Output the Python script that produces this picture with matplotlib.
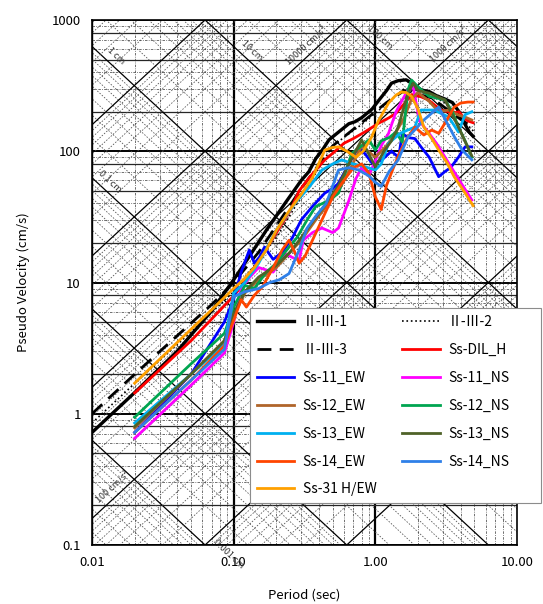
import numpy as np
import matplotlib
matplotlib.use('Agg')
import matplotlib.pyplot as plt
from matplotlib.ticker import FixedLocator, FixedFormatter, NullLocator
from matplotlib.patches import Rectangle

plt.rcParams['font.family'] = ['Noto Sans CJK JP', 'DejaVu Sans']

# ---------------- data ----------------
x_ticks = [0.01, 0.1, 1, 10]
x_tick_labels = ['0.01', '0.10', '1.00', '10.00']
y_ticks = [0.1, 1, 10, 100, 1000]
y_tick_labels = ['0.1', '1', '10', '100', '1000']

# II-III-1 (black solid)
T_231 = [0.01, 0.02, 0.04, 0.071, 0.1, 0.13, 0.17, 0.23, 0.3, 0.34, 0.38, 0.43, 0.47, 0.55, 0.65, 0.72,
         0.8, 0.95, 1.06, 1.2, 1.3, 1.45, 1.65, 1.8, 2.0, 2.2, 2.4, 2.7, 3.1, 3.5, 3.9, 4.3, 4.6, 4.9]
V_231 = [0.72, 1.45, 3.0, 6.2, 10.5, 16, 25, 40, 60, 70, 88, 105, 122, 140, 162, 168,
         180, 210, 245, 290, 330, 345, 350, 332, 300, 290, 285, 265, 250, 235, 200, 160, 140, 130]
# II-III-2 (black dotted)
T_232 = [0.01, 0.02, 0.05, 0.1, 0.2, 0.3, 0.5, 0.8, 1.2, 1.6, 2.0, 3.0, 4.0, 5.0]
V_232 = [0.85, 1.7, 4.2, 8.5, 22, 45, 110, 160, 230, 300, 290, 240, 180, 140]
# II-III-3 (black dashed)
T_233 = [0.01, 0.02, 0.05, 0.07, 0.1, 0.15, 0.2, 0.3, 0.5, 0.8, 1.2, 1.6, 2.5, 4.0, 5.0]
V_233 = [1.0, 2.0, 4.9, 6.8, 10, 17, 27, 52, 110, 165, 235, 290, 255, 175, 150]

# Ss-DIL_H (red)
T_dil = [0.02, 0.05, 0.1, 0.113, 0.14, 0.17, 0.21, 0.25, 0.29, 0.35, 0.44, 0.52, 0.6, 0.7, 0.84,
         1.06, 1.25, 1.4, 1.6, 1.8, 2.1, 2.37, 2.9, 3.3, 3.6, 3.9, 4.2, 4.5, 4.9]
V_dil = [1.44, 3.6, 7.9, 9.3, 13, 18, 26, 35, 50, 65, 86, 100, 115, 125, 140,
         164, 180, 195, 230, 270, 260, 246, 206, 200, 196, 200, 180, 170, 165]
# Ss-11 EW (blue)
T_11ew = [0.02, 0.05, 0.086, 0.1, 0.113, 0.129, 0.14, 0.152, 0.165, 0.19, 0.22, 0.26, 0.3, 0.36, 0.44,
          0.5, 0.55, 0.65, 0.76, 0.85, 0.95, 1.1, 1.3, 1.46, 1.55, 1.7, 1.9, 2.1, 2.4, 2.8, 3.1,
          3.4, 3.86, 4.3, 4.8]
V_11ew = [0.72, 2.0, 5.0, 7.5, 12, 17.7, 14, 15.6, 18.6, 15, 17, 22, 30, 38, 48,
          52, 57, 80, 108, 95, 81, 85, 100, 90, 137, 127, 125, 108, 90, 64, 70,
          75, 90, 108, 108]
# Ss-11 NS (magenta)
T_11ns = [0.02, 0.05, 0.086, 0.1, 0.113, 0.13, 0.15, 0.19, 0.23, 0.26, 0.29, 0.31, 0.36, 0.42, 0.5,
          0.55, 0.65, 0.73, 0.8, 0.9, 1.0, 1.1, 1.24, 1.4, 1.55, 1.7, 1.85, 2.05, 2.3, 2.7, 3.3,
          4.0, 4.8]
V_11ns = [0.65, 1.65, 2.9, 5.0, 9.0, 11, 13, 12, 16.6, 15.5, 14.8, 21, 24, 26, 24,
          26, 42, 62, 75, 65, 85, 110, 137, 200, 246, 293, 309, 170, 145, 115, 81,
          58, 42.5]
# Ss-12 EW (brown)
T_12ew = [0.02, 0.05, 0.086, 0.1, 0.12, 0.15, 0.2, 0.25, 0.3, 0.38, 0.45, 0.55, 0.65, 0.8, 1.0,
          1.2, 1.4, 1.6, 1.8, 2.0, 2.4, 2.8, 3.3, 3.8, 4.3, 4.8]
V_12ew = [0.78, 2.0, 3.6, 5.6, 8.3, 10.5, 13, 17, 21, 30, 38, 50, 70, 110, 90,
          110, 140, 180, 250, 280, 240, 200, 206, 190, 182, 173]
# Ss-12 NS (green)
T_12ns = [0.02, 0.05, 0.086, 0.1, 0.12, 0.14, 0.17, 0.2, 0.246, 0.28, 0.33, 0.38, 0.47, 0.55, 0.68,
          0.8, 0.9, 1.0, 1.1, 1.25, 1.4, 1.55, 1.7, 1.8, 2.0, 2.4, 3.1, 3.5, 3.86, 4.3, 4.8]
V_12ns = [0.94, 2.4, 4.1, 6.5, 9.5, 9.0, 12, 14, 18.6, 22, 30, 38, 42, 48, 96,
          110, 122, 102, 120, 127, 140, 117, 293, 349, 309, 262, 246, 200, 153, 120, 90]
# Ss-13 EW (cyan)
T_13ew = [0.02, 0.05, 0.086, 0.1, 0.12, 0.15, 0.2, 0.27, 0.34, 0.42, 0.5, 0.58, 0.7, 0.85, 1.0,
          1.1, 1.24, 1.5, 1.9, 2.1, 2.6, 3.3, 3.86, 4.3, 4.8]
V_13ew = [0.85, 2.0, 3.4, 8.3, 10, 14, 25, 40, 53, 72, 80, 86, 80, 76, 72,
          80, 115, 137, 153, 206, 206, 182, 140, 190, 200]
# Ss-13 NS (olive)
T_13ns = [0.02, 0.05, 0.086, 0.1, 0.12, 0.15, 0.2, 0.25, 0.3, 0.38, 0.45, 0.55, 0.65, 0.8, 1.0,
          1.15, 1.3, 1.45, 1.7, 1.85, 2.0, 2.4, 3.1, 3.86, 4.8]
V_13ns = [0.8, 2.0, 3.6, 5.8, 8.5, 11, 13.5, 17, 22, 31.5, 40, 55, 80, 122, 76,
          100, 120, 153, 277, 330, 290, 277, 246, 153, 92]
# Ss-14 EW (orange-red)
T_14ew = [0.02, 0.05, 0.086, 0.113, 0.123, 0.14, 0.16, 0.19, 0.22, 0.246, 0.27, 0.29, 0.32, 0.36,
          0.42, 0.5, 0.6, 0.7, 0.8, 0.9, 1.0, 1.1, 1.2, 1.35, 1.5, 1.65, 1.9, 2.2, 2.5, 2.8, 3.2,
          3.6, 4.0, 4.5, 4.9]
V_14ew = [0.72, 1.8, 3.3, 7.4, 6.5, 8.0, 9.3, 13, 17.7, 21, 17, 14, 16, 21,
          30, 45, 60, 75, 80, 68, 45, 36, 55, 76, 100, 122, 153, 133, 145, 137, 173,
          217, 233, 237, 237]
# Ss-14 NS (blue)
T_14ns = [0.02, 0.05, 0.086, 0.1, 0.12, 0.15, 0.18, 0.21, 0.246, 0.29, 0.33, 0.38, 0.45, 0.55, 0.65,
          0.76, 0.9, 1.0, 1.1, 1.25, 1.45, 1.7, 1.95, 2.2, 2.5, 2.8, 3.2, 3.6, 4.1, 4.8]
V_14ns = [0.72, 1.8, 3.1, 7.8, 8.5, 9.0, 10, 10.5, 11.7, 17.7, 26, 32, 40, 72, 75,
          72, 65, 58, 54, 70, 86, 128, 150, 173, 195, 217, 165, 130, 102, 86]
# Ss-31 H/EW (orange)
T_31 = [0.02, 0.04, 0.071, 0.1, 0.118, 0.14, 0.17, 0.2, 0.25, 0.3, 0.36, 0.44, 0.5, 0.55, 0.63,
        0.73, 0.82, 0.94, 1.05, 1.24, 1.4, 1.53, 1.65, 1.8, 2.0, 2.2, 2.5, 2.8, 3.2, 3.6, 4.2, 4.9]
V_31 = [1.71, 3.5, 6.3, 9.0, 10.6, 13, 17.7, 25, 36, 47, 63, 102, 107, 108, 100,
        90, 100, 128, 170, 233, 268, 283, 280, 262, 210, 153, 125, 102, 82, 64, 50, 38.5]

# background tripartite grid values
disp_decades = [1e-4, 1e-3, 1e-2, 1e-1, 1, 10, 100, 1000]      # cm
acc_decades = [1, 10, 100, 1000, 1e4, 1e5, 1e6]                # cm/s^2
disp_labels = [(1.0, 0.0125, '1 cm'), (10.0, 0.11, '10 cm'), (100.0, 0.85, '100 cm'),
               (0.1, 0.0108, '0.1 cm'), (0.001, 0.07, '0.001 cm')]
acc_labels = [(1e4, 0.25, '10000 cm/s²'), (1000, 2.6, '1000 cm/s²'), (100, 0.0115, '100 cm/s²')]

# ---------------- figure ----------------
W, H = 543, 604
fig = plt.figure(figsize=(W / 100, H / 100), dpi=100)
L, R, Tp, B = 92, 517, 20, 545
ax = fig.add_axes([L / W, 1 - B / H, (R - L) / W, (B - Tp) / H])
ax.set_xscale('log')
ax.set_yscale('log')
ax.set_xlim(0.01, 10)
ax.set_ylim(0.1, 1000)

minor_ls = (0, (3, 1.5, 1, 1.5))
# vertical / horizontal grid
for d in [0.01, 0.1, 1]:
    for m in range(1, 10):
        t = d * m
        if m == 1:
            ax.axvline(t, color='k', lw=1.6 if d in (0.1, 1) else 1.0, zorder=1)
        else:
            ax.axvline(t, color='0.35', lw=0.6, ls=minor_ls, zorder=1)
for d in [0.1, 1, 10, 100]:
    for m in range(1, 10):
        v = d * m
        if m == 1:
            ax.axhline(v, color='k', lw=1.4, zorder=1)
        elif m in (2, 5, 8):
            ax.axhline(v, color='0.15', lw=0.9, zorder=1)
        else:
            ax.axhline(v, color='0.35', lw=0.6, ls=minor_ls, zorder=1)
ax.axhline(1000, color='k', lw=1.4, zorder=1)

Tg = np.logspace(-2.2, 1.2, 50)
for d in disp_decades:
    for m in range(1, 10):
        D = d * m
        V = 2 * np.pi * D / Tg
        if m == 1:
            ax.plot(Tg, V, color='k', lw=0.9, zorder=1)
        else:
            ax.plot(Tg, V, color='0.3', lw=0.55, ls=(0, (2, 2)), zorder=1)
for a in acc_decades:
    for m in range(1, 10):
        A = a * m
        V = A * Tg / (2 * np.pi)
        if m == 1:
            ax.plot(Tg, V, color='k', lw=0.9, zorder=1)
        else:
            ax.plot(Tg, V, color='0.3', lw=0.55, ls=(0, (2, 2)), zorder=1)

ang = np.degrees(np.arctan((525 / 4) / (425 / 3)))
for D, t, s in disp_labels:
    ax.text(t, 2 * np.pi * D / t * 1.12, s, rotation=-ang, fontsize=6.5, color='0.2',
            ha='left', va='bottom', rotation_mode='anchor', zorder=2)
for A, t, s in acc_labels:
    ax.text(t, A * t / (2 * np.pi) * 1.12, s, rotation=ang, fontsize=6.5, color='0.2',
            ha='left', va='bottom', rotation_mode='anchor', zorder=2)

# ---------------- curves ----------------
lw = 2.0
h231, = ax.plot(T_231, V_231, color='k', lw=2.4, zorder=5, label='Ⅱ-Ⅲ-1')
h232, = ax.plot(T_232, V_232, color='k', lw=1.2, ls=':', zorder=5, label='Ⅱ-Ⅲ-2')
h233, = ax.plot(T_233, V_233, color='k', lw=2.0, ls=(0, (5, 3)), zorder=5, label='Ⅱ-Ⅲ-3')
hdil, = ax.plot(T_dil, V_dil, color='#FF0000', lw=lw, zorder=6, label='Ss-DIL_H')
h11e, = ax.plot(T_11ew, V_11ew, color='#0000FF', lw=lw, zorder=6, label='Ss-11_EW')
h11n, = ax.plot(T_11ns, V_11ns, color='#FF00FF', lw=lw, zorder=6, label='Ss-11_NS')
h12e, = ax.plot(T_12ew, V_12ew, color='#B0652A', lw=lw, zorder=6, label='Ss-12_EW')
h12n, = ax.plot(T_12ns, V_12ns, color='#00A550', lw=lw, zorder=6, label='Ss-12_NS')
h13e, = ax.plot(T_13ew, V_13ew, color='#00B0F0', lw=lw, zorder=6, label='Ss-13_EW')
h13n, = ax.plot(T_13ns, V_13ns, color='#4F6228', lw=lw, zorder=6, label='Ss-13_NS')
h14e, = ax.plot(T_14ew, V_14ew, color='#FF4500', lw=lw, zorder=6, label='Ss-14_EW')
h14n, = ax.plot(T_14ns, V_14ns, color='#2F80E8', lw=lw, zorder=6, label='Ss-14_NS')
h31, = ax.plot(T_31, V_31, color='#FFA000', lw=lw, zorder=7, label='Ss-31 H/EW')

# legend box (white panel with grey border) + legend entries
panel = Rectangle((250 / W, 1 - 503 / H), 291 / W, 195 / H, transform=fig.transFigure,
                  facecolor='white', edgecolor='0.55', lw=0.8, zorder=19)
fig.add_artist(panel)
handles = [h231, h233, h11e, h12e, h13e, h14e, h31,
           h232, hdil, h11n, h12n, h13n, h14n]
leg = fig.legend(handles=handles, loc='upper left',
                 bbox_to_anchor=(250 / W, 1 - 308 / H),
                 bbox_transform=fig.transFigure, ncol=2, fontsize=10,
                 frameon=False, borderaxespad=0, handlelength=2.7, handletextpad=0.6,
                 labelspacing=1.0, columnspacing=1.85, borderpad=0.5)
leg.set_zorder(20)

# ticks
ax.xaxis.set_major_locator(FixedLocator(x_ticks))
ax.xaxis.set_major_formatter(FixedFormatter(x_tick_labels))
ax.yaxis.set_major_locator(FixedLocator(y_ticks))
ax.yaxis.set_major_formatter(FixedFormatter(y_tick_labels))
ax.xaxis.set_minor_locator(NullLocator())
ax.yaxis.set_minor_locator(NullLocator())
ax.tick_params(length=0, labelsize=9.5, pad=8)
for s in ax.spines.values():
    s.set_linewidth(1.2)
ax.set_xlabel('Period (sec)', fontsize=9.5, labelpad=14)
ax.set_ylabel('Pseudo Velocity (cm/s)', fontsize=9.5, labelpad=16)

fig.savefig('out.png', dpi=100)
